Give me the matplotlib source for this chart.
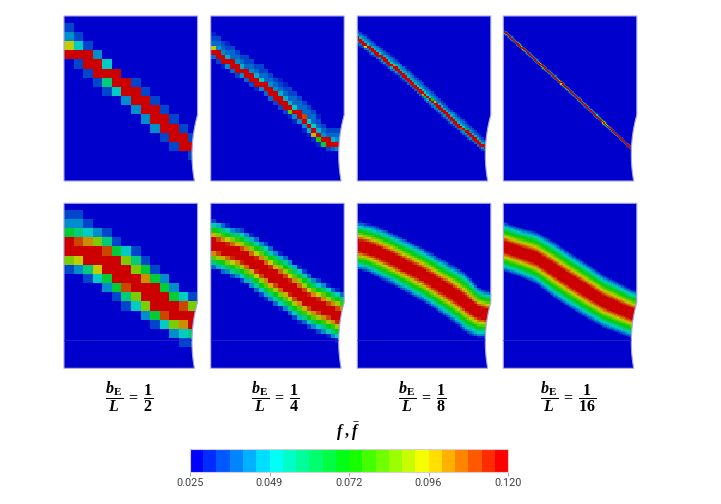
import numpy as np
import matplotlib
matplotlib.use('Agg')
import matplotlib.pyplot as plt
from matplotlib.colors import ListedColormap, Normalize, hsv_to_rgb
from matplotlib.path import Path
from matplotlib.patches import PathPatch
from matplotlib.cm import ScalarMappable

plt.rcParams['mathtext.fontset'] = 'custom'
plt.rcParams['mathtext.rm'] = 'Liberation Serif'
plt.rcParams['mathtext.it'] = 'Liberation Serif:italic'
plt.rcParams['mathtext.bf'] = 'Liberation Serif:bold'
plt.rcParams['mathtext.bfit'] = 'Liberation Serif:italic:bold'

# ---------------- data ----------------
f_min, f_max = 0.025, 0.120
n_levels = 24
cbar_ticks = [0.025, 0.04875, 0.0725, 0.09625, 0.120]
cbar_labels = ['0.025', '0.049', '0.072', '0.096', '0.120']
col_labels = [r'$\dfrac{\mathbfit{b}_{\mathbf{E}}}{\mathbfit{L}}\;\mathbf{=}\;\dfrac{\mathbf{1}}{\mathbf{2}}$',
              r'$\dfrac{\mathbfit{b}_{\mathbf{E}}}{\mathbfit{L}}\;\mathbf{=}\;\dfrac{\mathbf{1}}{\mathbf{4}}$',
              r'$\dfrac{\mathbfit{b}_{\mathbf{E}}}{\mathbfit{L}}\;\mathbf{=}\;\dfrac{\mathbf{1}}{\mathbf{8}}$',
              r'$\dfrac{\mathbfit{b}_{\mathbf{E}}}{\mathbfit{L}}\;\mathbf{=}\;\dfrac{\mathbf{1}}{\mathbf{16}}$']
cbar_title = r'$\mathbfit{f}\;\mathbf{,}\;\bar{\mathbfit{f}}$'
n_cols = [14, 28, 56, 112]

# coarsest mesh, cells as (row, first column, values)
f_coarse = [
    (1, 0, [0.035]),
    (2, 0, [0.043, 0.035]),
    (3, 0, [0.094, 0.051, 0.035]),
    (4, 0, [0.12, 0.12, 0.12, 0.043]),
    (5, 1, [0.035, 0.12, 0.12, 0.051]),
    (6, 2, [0.035, 0.12, 0.12, 0.12]),
    (7, 3, [0.035, 0.059, 0.12, 0.12, 0.035]),
    (8, 4, [0.035, 0.051, 0.12, 0.12, 0.035]),
    (9, 6, [0.043, 0.12, 0.12, 0.035]),
    (10, 7, [0.043, 0.12, 0.12, 0.035]),
    (11, 8, [0.043, 0.12, 0.12, 0.035]),
    (12, 9, [0.043, 0.12, 0.12, 0.035]),
    (13, 10, [0.035, 0.12, 0.12, 0.035]),
    (14, 11, [0.035, 0.12, 0.12]),
    (15, 13, [0.035]),
]
fbar_coarse = [
    (1, 0, [0.035, 0.035]),
    (2, 0, [0.043, 0.043, 0.035]),
    (3, 0, [0.067, 0.059, 0.051, 0.043, 0.035]),
    (4, 0, [0.12, 0.109, 0.103, 0.085, 0.059, 0.035]),
    (5, 0, [0.12, 0.12, 0.12, 0.12, 0.109, 0.067, 0.051, 0.035]),
    (6, 0, [0.085, 0.094, 0.12, 0.12, 0.12, 0.12, 0.085, 0.059, 0.035]),
    (7, 0, [0.035, 0.043, 0.059, 0.094, 0.12, 0.12, 0.12, 0.085, 0.067, 0.035]),
    (8, 2, [0.035, 0.051, 0.067, 0.12, 0.12, 0.12, 0.103, 0.067, 0.043]),
    (9, 4, [0.043, 0.067, 0.109, 0.12, 0.12, 0.12, 0.067, 0.043]),
    (10, 5, [0.035, 0.059, 0.085, 0.12, 0.12, 0.12, 0.067, 0.051, 0.035]),
    (11, 6, [0.035, 0.051, 0.085, 0.12, 0.12, 0.12, 0.109, 0.085]),
    (12, 8, [0.043, 0.067, 0.109, 0.12, 0.12, 0.12]),
    (13, 9, [0.035, 0.051, 0.085, 0.103, 0.12]),
    (14, 11, [0.043, 0.051, 0.059]),
    (15, 12, [0.035, 0.035]),
]

# finer meshes: band centre line (x: fraction of width, y: fraction of height)
f_line_x = [[0.0, 0.42, 0.67, 0.845, 0.945, 1.0],
            [0.0, 0.32, 0.67, 0.945, 1.0],
            [0.0, 0.437, 0.957, 1.0]]
f_line_y = [[0.206, 0.438, 0.614, 0.76, 0.78, 0.78],
            [0.135, 0.337, 0.60, 0.792, 0.80],
            [0.089, 0.408, 0.802, 0.81]]
fbar_line_x = [[0.0, 0.245, 0.495, 0.745, 0.945, 1.0],
               [0.0, 0.1, 0.25, 0.5, 0.75, 0.9, 1.0],
               [0.0, 0.25, 0.5, 0.75, 0.96, 1.0]]
fbar_line_y = [[0.247, 0.323, 0.459, 0.60, 0.68, 0.70],
               [0.257, 0.278, 0.333, 0.439, 0.566, 0.661, 0.681],
               [0.263, 0.333, 0.469, 0.596, 0.671, 0.68]]

# profile across the band (distance from centre line in screen px -> value)
f_up_d = [[0, 3.0, 3.2, 6, 14, 16], [0, 1.5, 1.65, 4, 7, 8], [0, 0.8, 1.0, 2.5]]
f_up_v = [[0.12, 0.12, 0.05, 0.04, 0.034, 0.025], [0.12, 0.12, 0.05, 0.042, 0.034, 0.025],
          [0.12, 0.12, 0.045, 0.025]]
f_dn_d = [[0, 3.0, 3.2, 6, 7.5], [0, 1.5, 1.65, 4, 5], [0, 0.8, 1.0, 2.5]]
f_dn_v = [[0.12, 0.12, 0.045, 0.035, 0.025], [0.12, 0.12, 0.045, 0.035, 0.025],
          [0.12, 0.12, 0.045, 0.025]]
fbar_d = [0, 4.5, 7, 9.5, 12, 14.5, 17, 19.5, 22, 24]
fbar_v = [0.12, 0.12, 0.108, 0.095, 0.082, 0.07, 0.058, 0.046, 0.036, 0.025]

# ---------------- layout ----------------
FW, FH = 721, 504
PW, PH = 133.5, 165.0
panel_left = [64, 210.7, 357.3, 503.3]
panel_top = [16, 203.3]
h = PH / PW
y_origin = -2.5 / PW
cell_ratio = 0.962

colors = hsv_to_rgb(np.column_stack([np.linspace(240 / 360, 0, n_levels),
                                     np.ones(n_levels), np.ones(n_levels)]))
cbar_cmap = ListedColormap(colors)
panel_cmap = ListedColormap(colors * 0.8)
norm = Normalize(f_min, f_max)


def grid_shape(ncol):
    cw = 1.0 / ncol
    ch = cell_ratio * cw
    nrow = int(np.ceil((h - y_origin) / ch))
    return cw, ch, nrow


def coarse_field(cells, ncol):
    cw, ch, nrow = grid_shape(ncol)
    z = np.full((nrow, ncol), f_min)
    for k, j0, vals in cells:
        z[k, j0:j0 + len(vals)] = vals
    return z, ch, nrow


def band_field(ncol, lx, ly, d_up, v_up, d_dn, v_dn):
    cw, ch, nrow = grid_shape(ncol)
    lx = np.array(lx)
    ly = np.array(ly) * h
    xc = (np.arange(ncol) + 0.5) * cw
    yc = y_origin + (np.arange(nrow) + 0.5) * ch
    yl = np.interp(xc, lx, ly)
    slope = np.interp(xc, 0.5 * (lx[1:] + lx[:-1]), np.diff(ly) / np.diff(lx))
    dv = yc[:, None] - yl[None, :]
    dist = np.abs(dv) / np.sqrt(1 + slope ** 2)[None, :] * PW
    z = np.where(dv < 0, np.interp(dist, d_up, v_up), np.interp(dist, d_dn, v_dn))
    return z, ch, nrow


def panel_path():
    start, cy, depth = 0.60 * h, 0.84 * h, 5.5 / PW
    R = ((cy - start) ** 2 + depth ** 2) / (2 * depth)
    cx = 1 - depth + R
    ys = np.linspace(start, h, 40)
    xs = cx - np.sqrt(R ** 2 - (ys - cy) ** 2)
    verts = [(0, 0), (1, 0), (1, start)] + list(zip(xs, ys)) + [(0, h), (0, 0)]
    return Path(verts, closed=True)


fig = plt.figure(figsize=(FW / 100, FH / 100), dpi=100)

for r in range(2):
    for c in range(4):
        ax = fig.add_axes([panel_left[c] / FW, 1 - (panel_top[r] + PH) / FH, PW / FW, PH / FH])
        if c == 0:
            z, ch, nrow = coarse_field(f_coarse if r == 0 else fbar_coarse, n_cols[0])
        elif r == 0:
            z, ch, nrow = band_field(n_cols[c], f_line_x[c - 1], f_line_y[c - 1],
                                     f_up_d[c - 1], f_up_v[c - 1], f_dn_d[c - 1], f_dn_v[c - 1])
        else:
            z, ch, nrow = band_field(n_cols[c], fbar_line_x[c - 1], fbar_line_y[c - 1],
                                     fbar_d, fbar_v, fbar_d, fbar_v)
        im = ax.imshow(z, cmap=panel_cmap, norm=norm, interpolation='nearest', aspect='auto',
                       extent=(0, 1, y_origin + nrow * ch, y_origin))
        patch = PathPatch(panel_path(), facecolor='none', edgecolor='#a4a4e4', lw=0.8, clip_on=False)
        ax.add_patch(patch)
        im.set_clip_path(patch)
        if r == 1:
            ln = ax.axhline(0.828 * h, color='#2424d2', lw=0.6)
            ln.set_clip_path(patch)
        ax.set_xlim(0, 1)
        ax.set_ylim(h, 0)
        ax.axis('off')

for c in range(4):
    fig.text((panel_left[c] + PW / 2 - 2) / FW, 1 - 397 / FH, col_labels[c],
             ha='center', va='center', fontsize=11.5)

fig.text(348 / FW, 1 - 432 / FH, cbar_title, ha='center', va='center', fontsize=11.5)

cax = fig.add_axes([190 / FW, 1 - 471.5 / FH, 318 / FW, 22.2 / FH])
cb = fig.colorbar(ScalarMappable(norm=norm, cmap=cbar_cmap), cax=cax,
                  orientation='horizontal', ticks=cbar_ticks)
cb.ax.set_xticklabels(cbar_labels)
cb.outline.set_edgecolor('#d8cdd4')
cb.outline.set_linewidth(0.8)
cb.ax.tick_params(length=3, width=0.6, color='#999999', labelsize=7.8,
                  labelcolor='#404040', pad=2)
for t in cb.ax.get_xticklabels():
    t.set_fontfamily('Roboto')

fig.savefig('out.png', dpi=100)
